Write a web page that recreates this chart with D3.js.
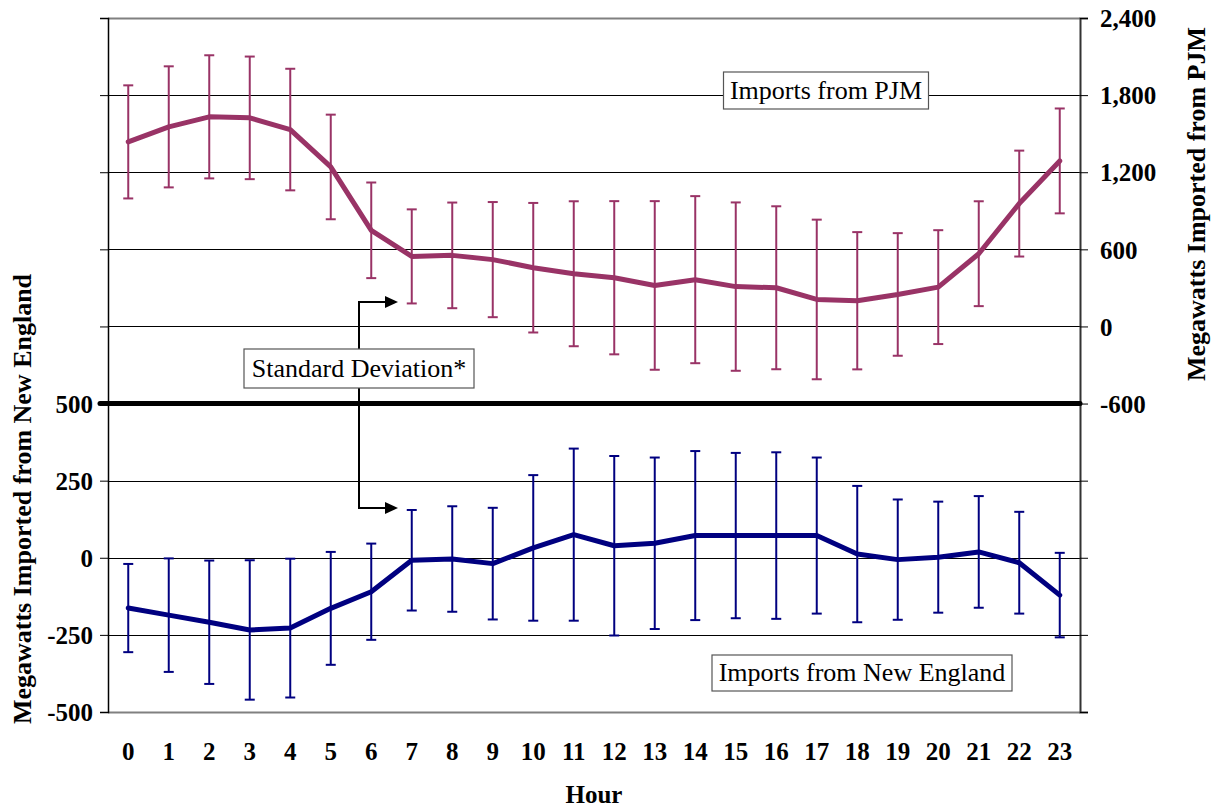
<!DOCTYPE html>
<html>
<head>
<meta charset="utf-8">
<script src="https://cdn.jsdelivr.net/npm/d3@7"></script>
<style>
  html, body { margin: 0; padding: 0; background: #fff; }
</style>
</head>
<body>
<svg id="chart" width="1211" height="808"></svg>
<script>
// ---- data ----
const hours = [0,1,2,3,4,5,6,7,8,9,10,11,12,13,14,15,16,17,18,19,20,21,22,23];
const pjmMean = [1436,1553,1631,1623,1532,1241,748,545,553,520,457,410,379,319,364,310,301,210,200,249,306,566,956,1288];
const pjmSD   = [440,471,479,477,473,407,372,366,411,448,504,564,596,656,650,655,634,621,534,477,443,408,412,408];
const neMean  = [-163,-186,-209,-234,-228,-164,-110,-8,-4,-19,32,75,39,47,72,72,72,72,12,-6,2,19,-16,-121];
const neSD    = [143,184,200,226,225,183,156,163,171,181,236,279,291,278,274,268,270,253,221,195,180,181,165,137];
const leftTickValues  = [-500,-250,0,250,500,750,1000,1250,1500,1750];
const leftTickLabels  = [-500,-250,0,250,500];
const rightTickValues = [-3000,-2400,-1800,-1200,-600,0,600,1200,1800,2400];
const rightTickLabels = [-600,0,600,1200,1800,2400];

// ---- layout ----
const FONT = "'Liberation Serif', 'Times New Roman', Times, serif";
const svg = d3.select("#chart").style("font-family", FONT);
const L = 108, R = 1080, T = 18, B = 712;
const x = d3.scaleBand().domain(hours).range([L, R]);
const cx = h => x(h) + x.bandwidth() / 2;
const yL = d3.scaleLinear().domain([-500, 1750]).range([B, T]);
const yR = d3.scaleLinear().domain([-3000, 2400]).range([B, T]);
const fmt = f => d => d3.format(f)(d).replace("\u2212", "-");

const PJM_COLOR = "#993366", NE_COLOR = "#000080";

// gridlines
svg.append("g").selectAll("line").data(leftTickValues).join("line")
  .attr("x1", L).attr("x2", R)
  .attr("y1", d => Math.round(yL(d)) + 0.5).attr("y2", d => Math.round(yL(d)) + 0.5)
  .attr("stroke", d => (d === -500 || d === 1750) ? "#808080" : "#000")
  .attr("stroke-width", d => (d === -500 || d === 1750) ? 2 : 1);

// left axis
const leftAxis = d3.axisLeft(yL).tickValues(leftTickValues).tickSizeOuter(0).tickSize(8)
  .tickFormat(d => leftTickLabels.includes(d) ? fmt("")(d) : "");
const gL = svg.append("g").attr("transform", `translate(${L},0)`).call(leftAxis);
gL.attr("font-family", null);
gL.select(".domain").attr("stroke", "#000").attr("stroke-width", 1.5);
gL.selectAll(".tick line").attr("stroke", "#000");
gL.selectAll(".tick text").attr("x", -15).attr("dy", "0.35em")
  .style("font-family", FONT).style("font-size", "25px").style("font-weight", "bold").attr("fill", "#000");

// right axis
const rightAxis = d3.axisRight(yR).tickValues(rightTickValues).tickSizeOuter(0).tickSize(8)
  .tickFormat(d => rightTickLabels.includes(d) ? fmt(",")(d) : "");
const gR = svg.append("g").attr("transform", `translate(${R},0)`).call(rightAxis);
gR.attr("font-family", null);
gR.select(".domain").attr("stroke", "#333").attr("stroke-width", 2);
gR.selectAll(".tick line").attr("stroke", "#000");
gR.selectAll(".tick text").attr("x", 20).attr("dy", "0.35em")
  .style("font-family", FONT).style("font-size", "25px").style("font-weight", "bold").attr("fill", "#000");

// x labels
svg.append("g").selectAll("text").data(hours).join("text")
  .attr("x", d => cx(d)).attr("y", 760)
  .attr("text-anchor", "middle")
  .style("font-family", FONT).style("font-size", "25px").style("font-weight", "bold")
  .text(d => d);

// thick separator
svg.append("line").attr("x1", 100).attr("x2", R).attr("y1", yR(-600)).attr("y2", yR(-600))
  .attr("stroke", "#000").attr("stroke-width", 5).attr("stroke-linecap", "round");

// annotation arrows (standard deviation)
const ax = 359, topY = 302, botY = 508, tip = 398;
svg.append("path").attr("d", `M${ax},${368} V${topY} H${tip - 12}`)
  .attr("fill", "none").attr("stroke", "#000").attr("stroke-width", 2);
svg.append("path").attr("d", `M${ax},${368} V${botY} H${tip - 12}`)
  .attr("fill", "none").attr("stroke", "#000").attr("stroke-width", 2);
[topY, botY].forEach(yy => {
  svg.append("path").attr("d", `M${tip},${yy} L${tip - 13},${yy - 6} L${tip - 13},${yy + 6} Z`).attr("fill", "#000");
});

// series drawing
function drawSeries(mean, sd, scale, color) {
  const g = svg.append("g");
  const data = hours.map((h, i) => ({h, m: mean[i], s: sd[i]}));
  g.selectAll("line.eb").data(data).join("line").attr("class", "eb")
    .attr("x1", d => cx(d.h)).attr("x2", d => cx(d.h))
    .attr("y1", d => scale(d.m + d.s)).attr("y2", d => scale(d.m - d.s))
    .attr("stroke", color).attr("stroke-width", 2);
  ["t", "b"].forEach(k => {
    g.selectAll("line.cap" + k).data(data).join("line").attr("class", "cap" + k)
      .attr("x1", d => cx(d.h) - 5).attr("x2", d => cx(d.h) + 5)
      .attr("y1", d => scale(k === "t" ? d.m + d.s : d.m - d.s))
      .attr("y2", d => scale(k === "t" ? d.m + d.s : d.m - d.s))
      .attr("stroke", color).attr("stroke-width", 2);
  });
  g.append("path").datum(data)
    .attr("d", d3.line().x(d => cx(d.h)).y(d => scale(d.m)))
    .attr("fill", "none").attr("stroke", color).attr("stroke-width", 5)
    .attr("stroke-linejoin", "round").attr("stroke-linecap", "round");
}
drawSeries(pjmMean, pjmSD, yR, PJM_COLOR);
drawSeries(neMean, neSD, yL, NE_COLOR);

// text boxes
function labelBox(text, cxp, cyp, w, h, baseline) {
  const g = svg.append("g");
  g.append("rect").attr("x", cxp - w / 2).attr("y", cyp - h / 2).attr("width", w).attr("height", h)
    .attr("fill", "#fff").attr("stroke", "#555").attr("stroke-width", 1.2);
  g.append("text").attr("x", cxp).attr("y", baseline).attr("text-anchor", "middle")
    .style("font-family", FONT).style("font-size", "26px").text(text);
}
labelBox("Imports from PJM", 826, 90.5, 205, 37, 99);
labelBox("Standard Deviation*", 359, 368.5, 230, 39, 377);
labelBox("Imports from New England", 862, 673, 300, 36, 681);

// axis titles
svg.append("text").attr("transform", "translate(31,499) rotate(-90)").attr("text-anchor", "middle")
  .style("font-family", FONT).style("font-size", "26px").style("font-weight", "bold").text("Megawatts Imported from New England");
svg.append("text").attr("transform", "translate(1205,204) rotate(-90)").attr("text-anchor", "middle")
  .style("font-family", FONT).style("font-size", "26px").style("font-weight", "bold").text("Megawatts Imported from PJM");
svg.append("text").attr("x", 594).attr("y", 803).attr("text-anchor", "middle")
  .style("font-family", FONT).style("font-size", "25px").style("font-weight", "bold").text("Hour");
</script>
</body>
</html>
